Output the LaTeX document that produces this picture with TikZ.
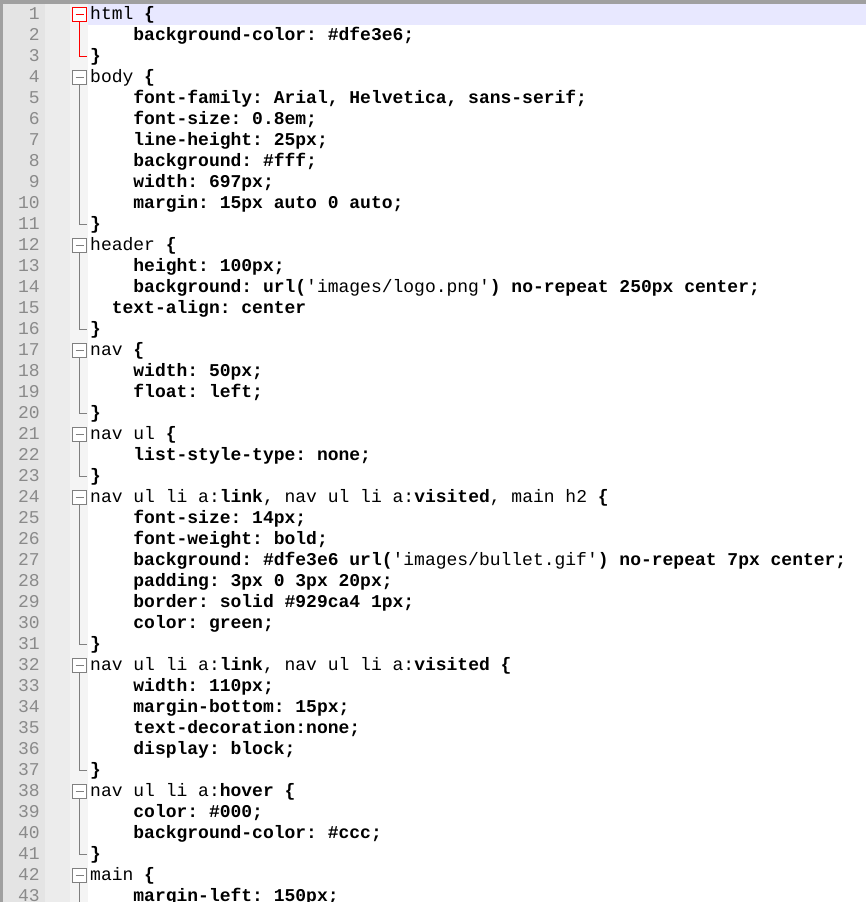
\documentclass[tikz,border=0pt]{standalone}
\usepackage{fontspec}
\setmonofont{Liberation Mono}
\usetikzlibrary{patterns}
\definecolor{numbg}{HTML}{E4E4E4}
\definecolor{numbg2}{HTML}{ECECEC}
\definecolor{foldbg}{HTML}{F4F4F4}
\definecolor{hl}{HTML}{E8E8FF}
\definecolor{numfg}{HTML}{8A8A8A}
\definecolor{foldgray}{HTML}{808080}
\definecolor{border}{HTML}{A0A0A0}
\newcommand{\q}{{\char39}}
\newcommand{\R}[1]{{\mdseries #1}}
\newcommand{\LY}[1]{\fpeval{902-(20+(#1-1)*20.98)}}
\newcommand{\CY}[1]{\fpeval{902-(15+(#1-1)*20.98)}}
\newcommand{\CL}[3]{%
  \node[numtxt] (n#1) at (40pt,\LY{#1}pt) {#1};
  \node[codetxt] (c#1) at (\fpeval{90+#2*10.8}pt,\LY{#1}pt) {#3};}
\newcommand{\FOLD}[3]{% start, end, color
  \node[foldbox,draw=#3] (f#1) at (79.5pt,\CY{#1}pt) {};
  \coordinate (e#1) at (87pt,\CY{#2}pt);
  \draw[#3,line width=1pt] (f#1.center) ++(-4pt,0) -- ++(8pt,0);
  \draw[#3,line width=1pt] (f#1.south) |- (e#1);}
\tikzset{
  numtxt/.style={anchor=base east,inner sep=0,font=\ttfamily\fontsize{18pt}{20pt}\selectfont,text=numfg},
  codetxt/.style={anchor=base west,inner sep=0,font=\ttfamily\bfseries\fontsize{18pt}{20pt}\selectfont},
  foldbox/.style={draw,fill=white,minimum size=14pt,inner sep=0,line width=1pt}
}
\begin{document}
\begin{tikzpicture}[x=1pt,y=1pt]
\useasboundingbox (0,0) rectangle (866,902);
\fill[white] (0,0) rectangle (866,902);
\fill[numbg] (0,0) rectangle (45,902);
\fill[numbg2] (45,0) rectangle (70,902);
\fill[foldbg] (70,0) rectangle (88,902);
\fill[border] (0,0) rectangle (2.5,902);
\fill[border] (0,898) rectangle (866,902);
\fill[hl] (88,877) rectangle (866,897.5);
\CL{1}{0}{\R{html} \{}
\CL{2}{4}{background-color: \#dfe3e6;}
\CL{3}{0}{\}}
\CL{4}{0}{\R{body} \{}
\CL{5}{4}{font-family: Arial, Helvetica, sans-serif;}
\CL{6}{4}{font-size: 0.8em;}
\CL{7}{4}{line-height: 25px;}
\CL{8}{4}{background: \#fff;}
\CL{9}{4}{width: 697px;}
\CL{10}{4}{margin: 15px auto 0 auto;}
\CL{11}{0}{\}}
\CL{12}{0}{\R{header} \{}
\CL{13}{4}{height: 100px;}
\CL{14}{4}{background: url(\R{\q images/logo.png\q}) no-repeat 250px center;}
\CL{15}{2}{text-align: center}
\CL{16}{0}{\}}
\CL{17}{0}{\R{nav} \{}
\CL{18}{4}{width: 50px;}
\CL{19}{4}{float: left;}
\CL{20}{0}{\}}
\CL{21}{0}{\R{nav ul} \{}
\CL{22}{4}{list-style-type: none;}
\CL{23}{0}{\}}
\CL{24}{0}{\R{nav ul li a:}link\R{, nav ul li a:}visited\R{, main h2} \{}
\CL{25}{4}{font-size: 14px;}
\CL{26}{4}{font-weight: bold;}
\CL{27}{4}{background: \#dfe3e6 url(\R{\q images/bullet.gif\q}) no-repeat 7px center;}
\CL{28}{4}{padding: 3px 0 3px 20px;}
\CL{29}{4}{border: solid \#929ca4 1px;}
\CL{30}{4}{color: green;}
\CL{31}{0}{\}}
\CL{32}{0}{\R{nav ul li a:}link\R{, nav ul li a:}visited \{}
\CL{33}{4}{width: 110px;}
\CL{34}{4}{margin-bottom: 15px;}
\CL{35}{4}{text-decoration:none;}
\CL{36}{4}{display: block;}
\CL{37}{0}{\}}
\CL{38}{0}{\R{nav ul li a:}hover \{}
\CL{39}{4}{color: \#000;}
\CL{40}{4}{background-color: \#ccc;}
\CL{41}{0}{\}}
\CL{42}{0}{\R{main} \{}
\CL{43}{4}{margin-left: 150px;}
\FOLD{1}{3}{red}
\FOLD{4}{11}{foldgray}
\FOLD{12}{16}{foldgray}
\FOLD{17}{20}{foldgray}
\FOLD{21}{23}{foldgray}
\FOLD{24}{31}{foldgray}
\FOLD{32}{37}{foldgray}
\FOLD{38}{41}{foldgray}
\node[foldbox,draw=foldgray] (f42) at (79.5pt,\CY{42}pt) {};
\coordinate (e42) at (79.5pt,0pt);
\draw[foldgray,line width=1pt] (f42.center) ++(-4pt,0) -- ++(8pt,0);
\draw[foldgray,line width=1pt] (f42.south) -- (e42);
\end{tikzpicture}
\end{document}
